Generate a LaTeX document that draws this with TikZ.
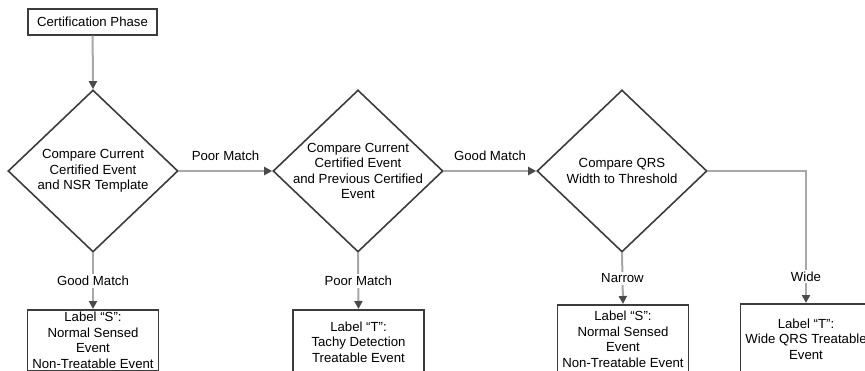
\documentclass[tikz,border=0pt]{standalone}
\usepackage{fontspec}
\setmainfont{Liberation Sans}
\usepackage{tikz}
\usetikzlibrary{shapes.geometric}
\usetikzlibrary{arrows.meta}

\definecolor{edgegray}{HTML}{3C3C3C}
\definecolor{linkgray}{HTML}{A8A8A8}
\definecolor{tipgray}{HTML}{4A4A4A}

\begin{document}
\begin{tikzpicture}[x=1pt,y=-1pt,
        every node/.style={font=\fontsize{13.2}{15.5}\selectfont, align=center},
        decision/.style={diamond, draw=edgegray, line width=1.6pt, minimum width=170pt, minimum height=162pt, inner sep=0pt},
        outcome/.style={rectangle, draw=edgegray, line width=1.6pt, anchor=north, minimum width=131pt, inner sep=0pt},
        flow/.style={draw=linkgray, line width=2pt, -{Triangle[length=8pt,width=8pt,color=tipgray]}},
        onflow/.style={fill=white, inner sep=2pt}]
        \useasboundingbox (0,0) rectangle (865,370);
        \clip (0,0) rectangle (865,370);

        % start
        \node[outcome, minimum width=129pt, minimum height=26pt] (cert) at (92.5,8) {Certification Phase};

        % the three comparisons
        \node[decision] (cmp1) at (93,171) {};
        \node (cmp1txt) at (93,171) {Compare Current\\Certified Event\\and NSR Template};
        \node[decision] (cmp2) at (358,171) {};
        \node (cmp2txt) at (358,171) {Compare Current\\Certified Event\\and Previous Certified\\Event};
        \node[decision] (cmp3) at (622,171) {};
        \node (cmp3txt) at (622,171) {Compare QRS\\Width to Threshold};

        % labels
        \node[outcome, minimum height=61pt] (labS1) at (93,309) {Label “S”:\\Normal Sensed\\Event\\Non-Treatable Event};
        \node[outcome, minimum height=64pt] (labT1) at (358.5,309) {Label “T”:\\Tachy Detection\\Treatable Event};
        \node[outcome, minimum height=69pt] (labS2) at (623,304) {Label “S”:\\Normal Sensed\\Event\\Non-Treatable Event};
        \node[outcome, minimum height=70pt] (labT2) at (806,303) {Label “T”:\\Wide QRS Treatable\\Event};

        \draw[flow] (cert) -- (cmp1.north);
        \draw[flow] (cmp1.east) -- node[above=6pt] (poor1) {Poor Match} (cmp2.west);
        \draw[flow] (cmp2.east) -- node[above=6pt] (good2) {Good Match} (cmp3.west);
        \draw[flow] (cmp1.south) -- node[onflow] (good1) {Good Match} (labS1.north);
        \draw[flow] (cmp2.south) -- node[onflow] (poor2) {Poor Match} (labT1.north);
        \draw[flow] (cmp3.south) -- node[onflow] (narrow) {Narrow} (labS2.north);
        \draw[flow] (cmp3.east) -| node[onflow, pos=0.9] (wide) {Wide} (labT2.north);
    \end{tikzpicture}
\end{document}
